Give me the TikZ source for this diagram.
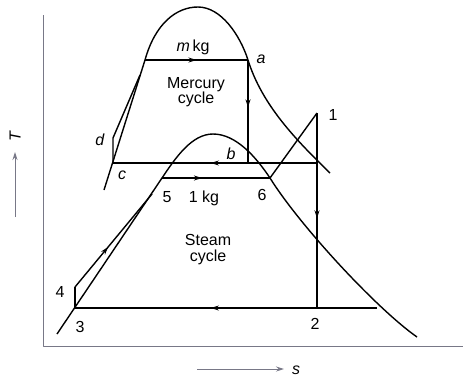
\documentclass[tikz,border=0pt]{standalone}
\usepackage{fontspec}
\setmainfont{Liberation Sans}
\usetikzlibrary{arrows.meta,decorations.markings}
\definecolor{axisgray}{RGB}{120,120,135}
\begin{document}
\begin{tikzpicture}[x=1pt,y=-1pt,line join=round,
  curve/.style={line width=1.4pt},
  midarrow/.style={postaction={decorate},decoration={markings,mark=at position #1 with {\arrow{Stealth[length=8pt,width=5pt]}}}},
  lbl/.style={font=\fontsize{16}{16}\selectfont,inner sep=0pt},
  axisline/.style={line width=1pt,draw=axisgray}]
\useasboundingbox (0,0) rectangle (463,376);
% axes
\coordinate (Ytop) at (43,15);
\coordinate (O) at (43,346);
\coordinate (Xend) at (463,346);
\draw[axisline] (Ytop) -- (O) -- (Xend);
% mercury points
\coordinate (mL) at (104,190);
\coordinate (mA1) at (145,60);
\coordinate (mtop) at (198,7);
\coordinate (a) at (248,60);
\coordinate (mR) at (330,173);
\coordinate (c) at (113,163);
\coordinate (d) at (113,138);
\coordinate (dj) at (140,75);
\coordinate (b) at (248,163);
\coordinate (bR) at (317,163);
% steam points
\coordinate (sL) at (57,334);
\coordinate (s5) at (162,178);
\coordinate (stop) at (213,134);
\coordinate (s6) at (270,178);
\coordinate (sR) at (417,337);
\coordinate (s3) at (75,308);
\coordinate (s4) at (75,287);
\coordinate (s4j) at (152,194);
\coordinate (s1) at (317,113);
\coordinate (s2) at (317,308);
\coordinate (s2R) at (377,308);
% mercury dome
\draw[curve] (mL) -- (mA1) .. controls (155,24) and (176,7) .. (mtop)
  .. controls (221,7) and (240,35) .. (a) .. controls (262,105) and (296,140) .. (mR);
\draw[curve,midarrow=0.5] (mA1) -- (a);
\draw[curve,midarrow=0.46] (a) -- (b);
\draw[curve,midarrow=0.52] (bR) -- (c);
\draw[curve] (c) -- (d) -- (dj);
% steam dome
\draw[curve] (sL) -- (s5) .. controls (176,157) and (192,134) .. (stop)
  .. controls (236,134) and (256,157) .. (s6) .. controls (300,226) and (377,309) .. (sR);
\draw[curve,midarrow=0.37] (s5) -- (s6);
\draw[curve] (s6) -- (s1);
\draw[curve,midarrow=0.54] (s1) -- (s2);
\draw[curve,midarrow=0.55] (s2R) -- (s3);
\draw[curve] (s3) -- (s4);
\draw[curve,midarrow=0.43] (s4) -- (s4j);
% labels
\node[lbl] (lmkg) at (193,47) {\textit{m}\,kg};
\node[lbl] (la) at (261,59) {\textit{a}};
\node[lbl,align=center] (lmerc) at (196,92) {Mercury\\[-1pt]cycle};
\node[lbl] (ld) at (100,140) {\textit{d}};
\node[lbl] (lc) at (122,175) {\textit{c}};
\node[lbl] (lb) at (231,154) {\textit{b}};
\node[lbl] (l5) at (167,197) {5};
\node[lbl] (l1kg) at (204,198) {1 kg};
\node[lbl] (l6) at (262,195) {6};
\node[lbl] (l1) at (333,115) {1};
\node[lbl,align=center] (lsteam) at (208,250) {Steam\\[0pt]cycle};
\node[lbl] (l4) at (60,292) {4};
\node[lbl] (l3) at (80,327) {3};
\node[lbl] (l2) at (315,324) {2};
% T arrow
\coordinate (Tb) at (15,217);
\coordinate (Tt) at (15,152);
\draw[line width=0.9pt,draw=axisgray,-{Stealth[length=8pt,width=5pt]}] (Tb) -- (Tt);
\node[lbl,rotate=90] (lT) at (15,136) {\textit{T}};
% s arrow
\coordinate (sa) at (197,369);
\coordinate (sb) at (284,369);
\draw[line width=0.9pt,draw=axisgray,-{Stealth[length=8pt,width=5pt]}] (sa) -- (sb);
\node[lbl] (ls) at (296,370) {\textit{s}};
\end{tikzpicture}
\end{document}
